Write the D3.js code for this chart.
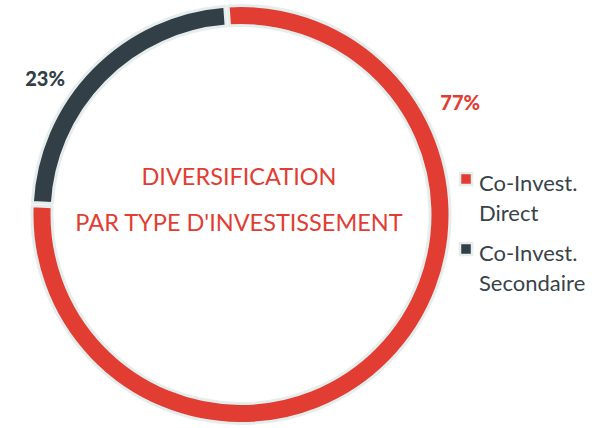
<!DOCTYPE html>
<html>
<head>
<meta charset="utf-8">
<script src="https://cdn.jsdelivr.net/npm/d3@7"></script>
<style>
  body { margin: 0; background: #fff; }
  svg { display: block; }
  text { font-family: Lato, "Open Sans", sans-serif; }
</style>
</head>
<body>
<svg width="598" height="428"></svg>
<script>
// chart values
var categories = ['Co-Invest. Direct', 'Co-Invest. Secondaire'];
var values = [77, 23];
var legendLines = [['Co-Invest.', 'Direct'], ['Co-Invest.', 'Secondaire']];
var colors = ['#e23d32', '#333f47'];
var titleLines = ['DIVERSIFICATION', "PAR TYPE D'INVESTISSEMENT"];

var svg = d3.select('svg');
var cx = 241, cy = 214.5;
var outerR = 209, innerR = 189;
var border = '#e6eded';

var start = -4 * Math.PI / 180;
var pie = d3.pie()
    .sort(null)
    .startAngle(start)
    .endAngle(start + 2 * Math.PI)
    .padAngle(0.012)
    .value(function(d){ return d; });

var arc = d3.arc()
    .innerRadius(innerR)
    .outerRadius(outerR);

var g = svg.append('g')
    .attr('transform', 'translate(' + cx + ',' + cy + ')');

var arcs = pie(values);

g.selectAll('path.slice')
    .data(arcs)
    .enter()
    .append('path')
    .attr('class', 'slice')
    .attr('d', arc)
    .attr('fill', function(d, i){ return colors[i]; })
    .attr('stroke', border)
    .attr('stroke-width', 3)
    .attr('stroke-linejoin', 'round');

// percentage labels, placed outside the ring
var labelAngles = [63, 304.6];
var labelR = [246, 238];
g.selectAll('text.pct')
    .data(arcs)
    .enter()
    .append('text')
    .attr('class', 'pct')
    .attr('x', function(d, i){ return labelR[i] * Math.sin(labelAngles[i] * Math.PI / 180); })
    .attr('y', function(d, i){ return -labelR[i] * Math.cos(labelAngles[i] * Math.PI / 180) + 7; })
    .attr('text-anchor', 'middle')
    .attr('font-size', 20)
    .attr('font-weight', 900)
    .attr('fill', function(d, i){ return colors[i]; })
    .text(function(d){ return Math.round(d.value) + '%'; });

// center title
svg.selectAll('text.title')
    .data(titleLines)
    .enter()
    .append('text')
    .attr('class', 'title')
    .attr('x', 239)
    .attr('y', function(d, i){ return 185 + i * 46; })
    .attr('text-anchor', 'middle')
    .attr('font-size', 23.5)
    .attr('fill', '#e23d32')
    .text(function(d){ return d; });

// legend
var legend = svg.selectAll('g.legend')
    .data(categories)
    .enter()
    .append('g')
    .attr('class', 'legend')
    .attr('transform', function(d, i){ return 'translate(459,' + (172 + i * 70) + ')'; });

legend.append('rect')
    .attr('x', 1)
    .attr('y', 1)
    .attr('width', 12)
    .attr('height', 12)
    .attr('fill', function(d, i){ return colors[i]; })
    .attr('stroke', border)
    .attr('stroke-width', 2.5);

legend.each(function(d, i){
    d3.select(this).selectAll('text')
        .data(legendLines[i])
        .enter()
        .append('text')
        .attr('x', 20)
        .attr('y', function(t, j){ return 19 + j * 30; })
        .attr('font-size', 22)
        .attr('fill', '#38434a')
        .text(function(t){ return t; });
});
</script>
</body>
</html>
